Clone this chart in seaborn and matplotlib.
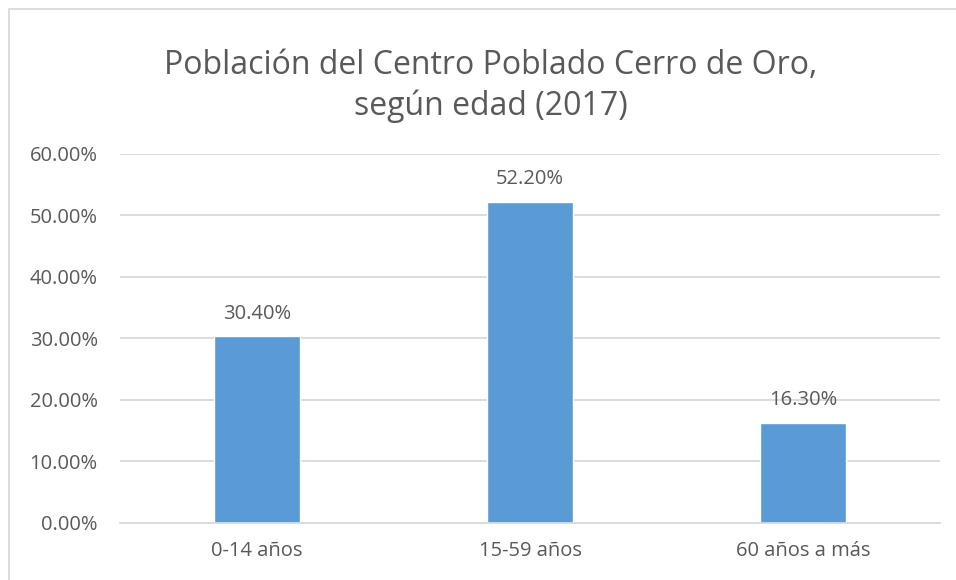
import matplotlib.pyplot as plt
import pandas as pd
import seaborn as sns
from matplotlib.patches import Rectangle

categories = ["0-14 años", "15-59 años", "60 años a más"]
shares = [30.40, 52.20, 16.30]
y_ticks = [0, 10, 20, 30, 40, 50, 60]

TEXT = "#595959"
BAR = "#5B9BD5"
GRID = "#D9D9D9"

sns.set_theme(style="white")
plt.rcParams["font.family"] = ["Open Sans", "DejaVu Sans"]

df = pd.DataFrame({"grupo": categories, "pct": shares})

fig = plt.figure(figsize=(9.56, 5.8), dpi=100)
ax = fig.add_axes([0.1255, 0.0983, 0.8578, 0.6362])

sns.barplot(data=df, x="grupo", y="pct", color=BAR, width=0.315, saturation=1, ax=ax)

ax.set_ylim(0, 60)
ax.set_yticks(y_ticks)
ax.set_yticklabels([f"{v:.2f}%" for v in y_ticks])
ax.set_xlabel("")
ax.set_ylabel("")
ax.tick_params(axis="both", colors=TEXT, labelsize=14.5, length=0)
ax.tick_params(axis="y", pad=16)
ax.tick_params(axis="x", pad=13)
ax.yaxis.grid(True, color=GRID, linewidth=1.3)
ax.set_axisbelow(True)
for side in ["top", "right", "left"]:
    ax.spines[side].set_visible(False)
ax.spines["bottom"].set_color(GRID)
ax.spines["bottom"].set_linewidth(1.3)

for container in ax.containers:
    ax.bar_label(container, labels=[f"{v:.2f}%" for v in shares], padding=9,
                 color=TEXT, fontsize=14.5)

fig.text(0.513, 0.852, "Población del Centro Poblado Cerro de Oro,\nsegún edad (2017)",
         ha="center", va="center", fontsize=23, color=TEXT, linespacing=1.28)

fig.patches.append(Rectangle((9 / 956, -0.05), 1.1, 1 - 9 / 580 + 0.05, transform=fig.transFigure,
                             fill=False, edgecolor="#D9D9D9", linewidth=1.3))

fig.savefig("out.png", dpi=100)
